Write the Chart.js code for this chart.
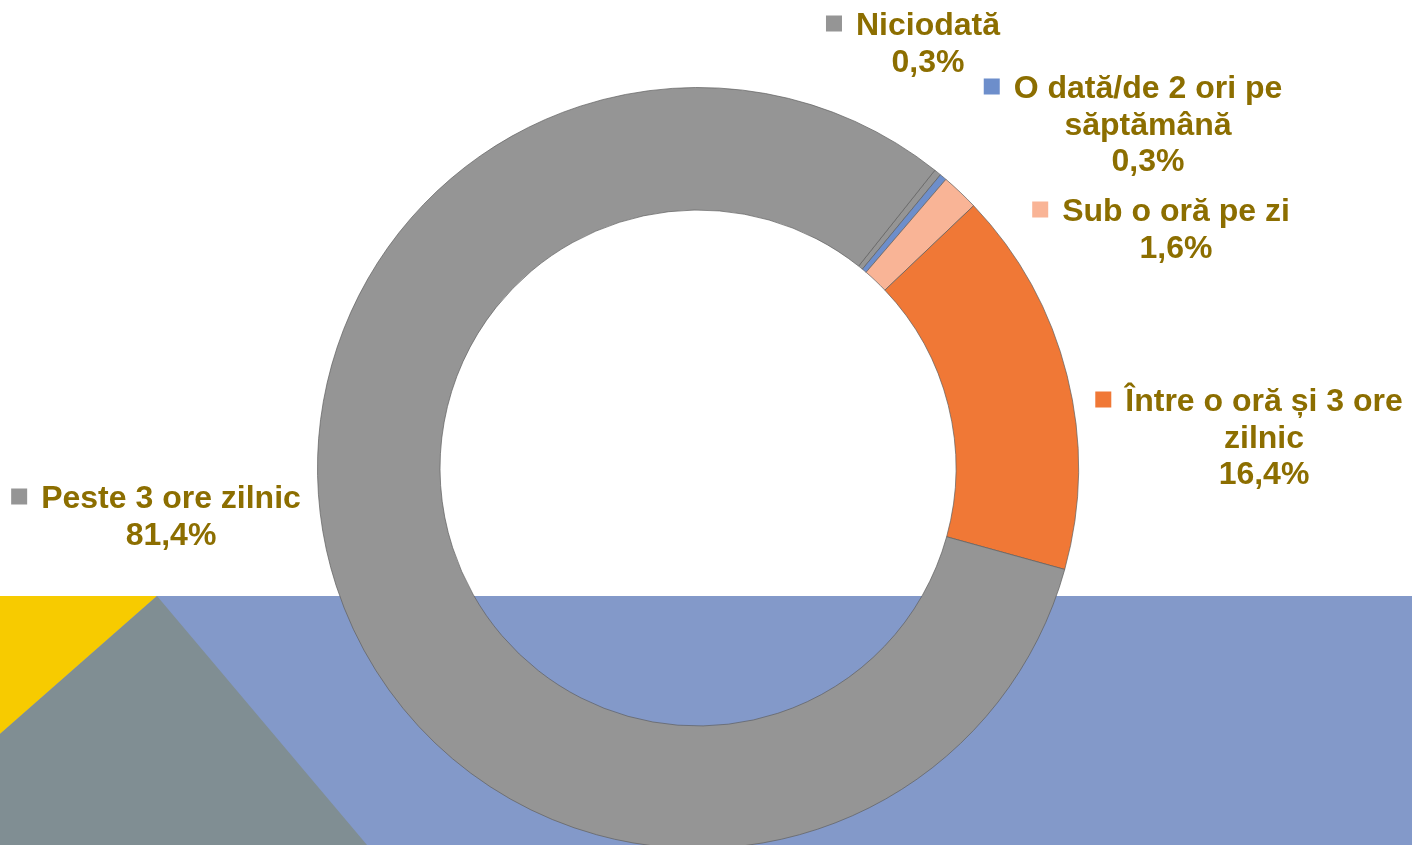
<!DOCTYPE html>
<html>
<head>
<meta charset="utf-8">
<script src="https://cdn.jsdelivr.net/npm/chart.js@4/dist/chart.umd.min.js"></script>
<style>
  html, body { margin: 0; padding: 0; background: #fff; overflow: hidden; }
  #wrap { position: relative; width: 1412px; height: 860px; }
</style>
</head>
<body>
<div id="wrap"><canvas id="donutCanvas"></canvas></div>
<script>
// categories and shares (%), in drawing order (clockwise)
const categories = ["Niciodată", "O dată/de 2 ori pe săptămână", "Sub o oră pe zi", "Între o oră și 3 ore zilnic", "Peste 3 ore zilnic"];
const values = [0.3, 0.3, 1.6, 16.4, 81.4];
const valueLabels = ["0,3%", "0,3%", "1,6%", "16,4%", "81,4%"];
// how the category names break onto lines in the labels
const wrappedNames = [["Niciodată"], ["O dată/de 2 ori pe", "săptămână"], ["Sub o oră pe zi"], ["Între o oră și 3 ore", "zilnic"], ["Peste 3 ore zilnic"]];

const sliceColors = ["#959595", "#6D8ECB", "#F9B496", "#F07836", "#959595"];
// label text centre x and first line baseline y
const labelSpots = [[928, 35], [1148, 98], [1176, 221], [1264, 411], [171, 508]];

const textColor = "#8C6E00";
const labelFont = "bold 32px 'Liberation Sans', Arial, sans-serif";
const lineGap = 36.5;

const backdrop = {
  id: "backdrop",
  beforeDraw(chart) {
    const c = chart.ctx;
    c.save();
    c.fillStyle = "#fff";
    c.fillRect(0, 0, chart.width, chart.height);
    c.fillStyle = "#8399C9";
    c.fillRect(0, 596, chart.width, chart.height - 596);
    c.fillStyle = "#F7CB00";
    c.beginPath();
    c.moveTo(0, 596); c.lineTo(157, 596); c.lineTo(0, 734); c.closePath();
    c.fill();
    c.fillStyle = "#808E93";
    c.beginPath();
    c.moveTo(157, 596); c.lineTo(367, 845); c.lineTo(367, chart.height); c.lineTo(0, chart.height); c.lineTo(0, 734); c.closePath();
    c.fill();
    c.restore();
  }
};

const sliceLabels = {
  id: "sliceLabels",
  afterDraw(chart) {
    const c = chart.ctx;
    c.save();
    c.font = labelFont;
    c.textAlign = "center";
    c.textBaseline = "alphabetic";
    wrappedNames.forEach((lines, i) => {
      const [cx, by] = labelSpots[i];
      const all = lines.concat([valueLabels[i]]);
      c.fillStyle = textColor;
      all.forEach((t, k) => c.fillText(t, cx, by + k * lineGap));
      const w = c.measureText(lines[0]).width;
      c.fillStyle = sliceColors[i];
      c.fillRect(cx - w / 2 - 30, by - 19.5, 16, 16);
    });
    c.restore();
  }
};

const canvas = document.getElementById("donutCanvas");
canvas.width = 1412;
canvas.height = 860;

new Chart(canvas, {
  type: "doughnut",
  data: {
    labels: categories,
    datasets: [{
      data: values,
      backgroundColor: sliceColors,
      borderColor: "rgba(95,95,95,0.7)",
      borderWidth: 1
    }]
  },
  options: {
    responsive: false,
    animation: false,
    rotation: 38.5,
    cutout: "67.8%",
    layout: { padding: { left: 317, right: 333, top: 87, bottom: 11 } },
    plugins: {
      legend: { display: false },
      tooltip: { enabled: false }
    }
  },
  plugins: [backdrop, sliceLabels]
});
</script>
</body>
</html>
